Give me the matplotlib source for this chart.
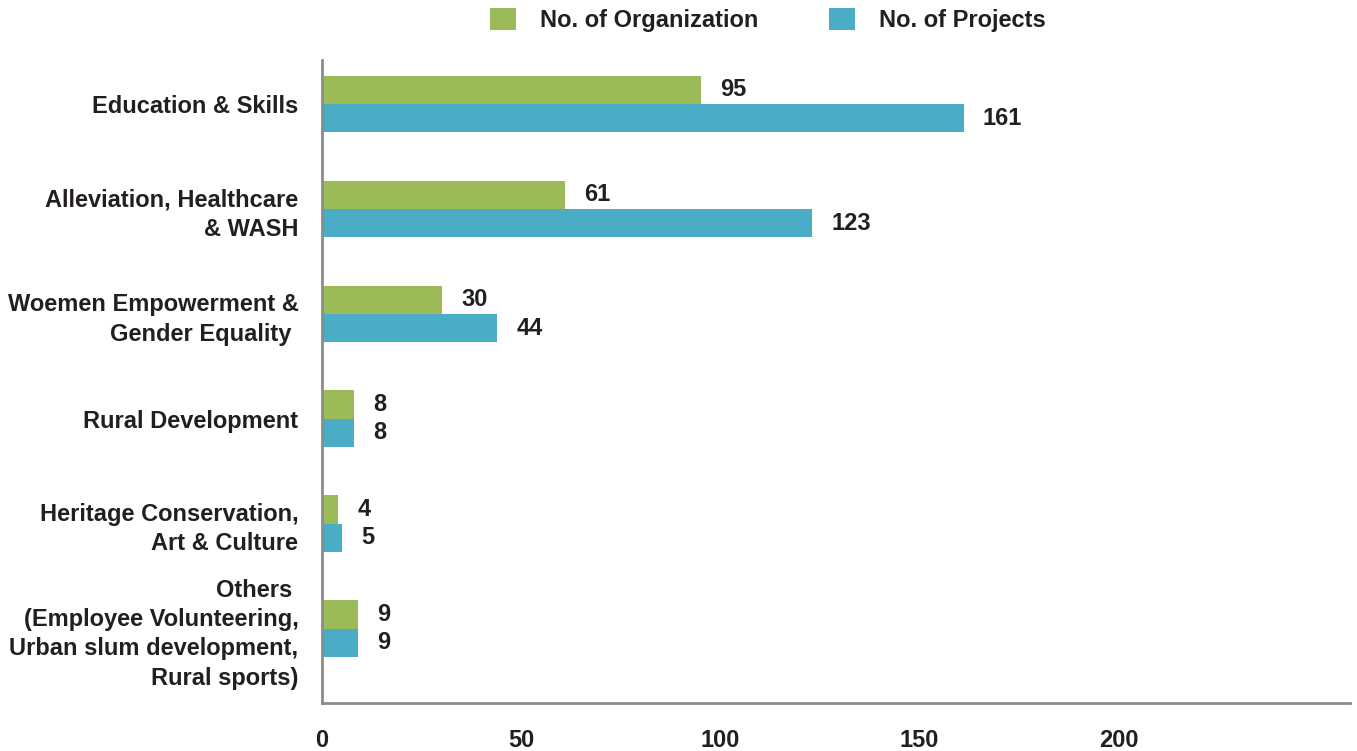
from matplotlib import pyplot as plt
import numpy as np

plt.rcParams['font.family'] = ['Liberation Sans', 'DejaVu Sans']

categories = ["Education & Skills",
              "Alleviation, Healthcare\n& WASH",
              "Woemen Empowerment &\nGender Equality ",
              "Rural Development",
              "Heritage Conservation,\nArt & Culture",
              "Others \n(Employee Volunteering,\nUrban slum development,\nRural sports)"]
organizations = [95, 61, 30, 8, 4, 9]
projects = [161, 123, 44, 8, 5, 9]
xticks = [0, 50, 100, 150, 200]

green = "#9BBB59"
blue = "#4BACC6"
txt = "#231F20"
label_sz = 17

px = 1/100
fig = plt.figure(figsize=(1357*px, 751*px), dpi=100)
ax = fig.add_axes([322/1357, 1 - 703/751, 1028/1357, 643/751])

y = np.arange(len(categories))
h = 0.27
b1 = ax.barh(y - h/2, organizations, height=h, color=green,
             label="No. of Organization")
b2 = ax.barh(y + h/2, projects, height=h, color=blue,
             label="No. of Projects")

for bars in (b1, b2):
    for bar in bars:
        w = bar.get_width()
        ax.annotate(str(int(w)), (w, bar.get_y() + bar.get_height()/2),
                    xytext=(14, 0), textcoords="offset points",
                    ha="left", va="center", fontsize=label_sz,
                    fontweight="bold", color=txt)

ax.set_xlim(0, 258)
ax.set_ylim(5.71, -0.42)
ax.set_yticks(y)
ax.set_yticklabels(categories, fontsize=label_sz, fontweight="bold",
                   color=txt, linespacing=1.35)
ax.set_xticks(xticks)
ax.set_xticklabels([str(t) for t in xticks], fontsize=label_sz,
                   fontweight="bold", color=txt)
ax.tick_params(axis="y", length=0, pad=17)
ax.tick_params(axis="x", length=0, pad=19)

for s in ["top", "right"]:
    ax.spines[s].set_visible(False)
for s in ["left", "bottom"]:
    ax.spines[s].set_color("#8C8C8C")
    ax.spines[s].set_linewidth(2)

fig.legend(handles=[b1, b2], loc="upper center",
           bbox_to_anchor=(768/1357, 1.018), ncol=2, frameon=False,
           prop={"size": label_sz, "weight": "bold"},
           handlelength=1.1, handleheight=1.1, handletextpad=1.0,
           columnspacing=3.0, labelcolor=txt)

plt.savefig("out.png", dpi=100)
